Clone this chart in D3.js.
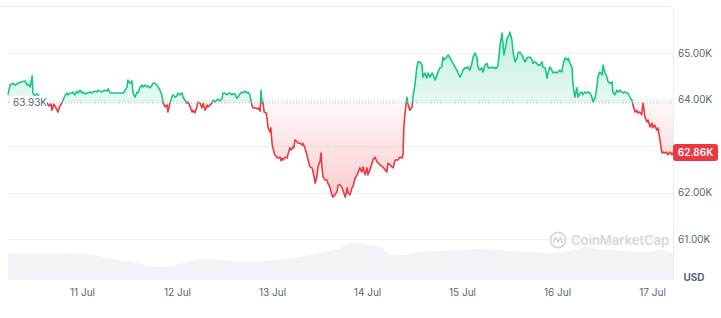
<!DOCTYPE html>
<html>
<head>
<meta charset="utf-8">
<script src="https://cdn.jsdelivr.net/npm/d3@7"></script>
<style>
  html, body { margin: 0; background: #fff; }
  svg { display: block; font-family: Inter, "Noto Sans", sans-serif; }
</style>
</head>
<body>
<svg id="chart" width="721" height="318"></svg>
<script>
// window start, 7 days of data (hours since start)
const start = Date.UTC(2024, 6, 10, 5, 18);
const openPrice = 63.93;
const lastPrice = 62.86;
const yTicks = [61, 62, 63, 64, 65];

// [hours since start, price in K USD]
const pricePoints = [
  [0,64.10],[0.5,64.31],[1.3,64.35],[1.8,64.31],[2.5,64.35],[3.5,64.38],[4.3,64.40],[4.8,64.31],
  [5.1,64.33],[5.6,64.27],[6.1,64.51],[6.3,64.14],[6.8,64.08],[7.3,64.12],[8.1,64.05],[9.1,63.99],
  [9.9,63.92],[10.4,63.86],[10.9,63.90],[11.1,63.77],[11.6,63.90],[12.1,63.82],[12.6,63.73],[13.1,63.86],
  [13.6,63.92],[13.9,63.99],[14.4,64.08],[14.9,64.14],[15.2,64.10],[15.7,64.14],[16.2,64.14],[16.4,64.16],
  [16.9,64.10],[17.4,64.18],[17.7,64.14],[18.2,64.20],[18.7,64.14],[18.9,64.16],[19.5,64.12],[20.0,64.14],
  [20.2,64.14],[20.7,64.16],[21.2,64.14],[21.5,64.16],[22.0,64.18],[22.5,64.16],[22.7,64.20],[23.2,64.18],
  [23.7,64.16],[24.0,64.18],[24.5,64.20],[25.0,64.18],[25.3,64.23],[25.8,64.14],[26.5,64.14],[27.5,64.14],
  [28.3,64.14],[29.1,64.14],[29.6,64.20],[30.1,64.27],[30.3,64.42],[30.8,64.35],[31.3,64.40],[31.6,64.14],
  [32.1,64.05],[32.6,64.16],[32.8,64.14],[33.3,64.25],[33.8,64.31],[34.1,64.27],[34.6,64.31],[35.1,64.27],
  [35.4,64.29],[35.9,64.25],[36.4,64.31],[36.6,64.35],[37.1,64.35],[37.6,64.31],[37.9,64.27],[38.4,64.20],
  [38.9,64.08],[39.2,63.92],[39.7,63.84],[40.2,63.88],[40.4,63.73],[40.7,63.84],[40.9,63.92],[41.4,64.05],
  [41.7,64.10],[42.2,64.05],[42.7,64.08],[42.9,64.14],[43.4,64.10],[44.0,64.14],[44.2,64.05],[44.7,63.99],
  [45.2,63.92],[45.5,63.95],[46.0,63.84],[46.5,63.73],[46.7,63.77],[47.2,63.71],[47.7,63.84],[48.0,63.95],
  [48.5,63.92],[49.0,63.82],[49.3,63.92],[49.8,63.77],[50.3,63.88],[50.5,63.84],[51.0,63.88],[51.5,63.92],
  [51.8,63.99],[52.3,63.95],[52.8,63.99],[53.0,64.01],[53.6,63.97],[54.1,64.03],[54.3,64.14],[54.8,64.14],
  [55.3,64.10],[55.6,64.12],[56.1,64.14],[56.6,64.10],[56.8,64.12],[57.3,64.12],[57.8,64.03],[58.1,64.05],
  [58.6,64.12],[59.1,64.16],[59.4,64.14],[59.9,64.18],[60.4,64.14],[60.6,64.16],[61.1,64.10],[61.6,63.88],
  [61.9,63.82],[62.4,63.82],[62.9,63.80],[63.2,63.82],[63.7,63.75],[63.9,64.20],[64.2,63.92],[64.4,63.95],
  [64.7,63.73],[65.2,63.71],[65.4,63.62],[65.7,63.39],[66.2,63.30],[66.4,63.39],[66.7,63.06],[66.9,62.96],
  [67.4,62.81],[67.9,62.76],[68.2,62.74],[68.7,62.76],[69.0,62.68],[69.2,62.74],[69.5,62.70],[70.0,62.76],
  [70.5,62.74],[70.7,62.81],[71.2,62.96],[71.5,62.91],[72.0,62.98],[72.2,62.96],[72.5,63.13],[73.0,63.09],
  [73.3,63.06],[73.8,63.06],[74.3,63.02],[74.5,63.06],[75.0,62.96],[75.5,62.81],[75.8,62.70],[76.3,62.55],
  [76.8,62.53],[77.0,62.48],[77.6,62.20],[78.1,62.38],[78.3,62.55],[78.8,62.66],[79.1,62.85],[79.3,62.55],
  [79.6,62.33],[80.1,62.27],[80.6,62.27],[80.8,62.20],[81.3,62.12],[81.8,61.95],[82.1,61.90],[82.6,61.95],
  [83.1,62.01],[83.4,62.16],[83.9,62.16],[84.4,62.10],[85.2,61.90],[85.7,62.10],[85.9,61.99],[86.4,61.95],
  [86.9,62.10],[87.1,62.12],[87.7,62.31],[88.2,62.38],[88.9,62.53],[89.4,62.44],[89.7,62.55],[90.2,62.38],
  [90.7,62.53],[90.9,62.38],[91.4,62.48],[92.2,62.70],[92.7,62.76],[93.2,62.66],[94.0,62.59],[94.7,62.55],
  [95.7,62.44],[96.0,62.63],[97.0,62.55],[97.3,62.53],[97.8,62.70],[98.5,62.70],[99.0,62.76],[99.5,62.74],
  [99.8,62.81],[100.0,63.41],[100.3,63.71],[100.8,64.05],[101.0,63.92],[101.5,63.77],[102.1,63.84],[102.3,64.05],
  [102.8,64.31],[103.3,64.70],[103.6,64.81],[104.1,64.81],[104.6,64.74],[104.8,64.48],[105.3,64.57],[105.8,64.46],
  [106.1,64.57],[106.6,64.48],[107.1,64.57],[107.4,64.53],[107.9,64.42],[108.4,64.53],[108.6,64.59],[109.1,64.68],
  [109.6,64.70],[109.9,64.91],[110.1,64.85],[110.6,64.89],[111.2,64.96],[111.7,64.89],[112.2,64.81],[112.4,64.78],
  [112.9,64.70],[113.4,64.63],[113.7,64.57],[114.2,64.48],[114.7,64.57],[114.9,64.63],[115.4,64.68],[115.9,64.68],
  [116.2,64.70],[116.7,64.63],[117.2,64.78],[117.5,64.91],[118.0,65.00],[118.5,64.89],[118.7,64.70],[119.2,64.63],
  [119.7,64.68],[120.0,64.59],[120.5,64.74],[121.0,64.78],[121.3,64.68],[121.8,64.68],[122.3,64.70],[122.5,64.68],
  [123.0,64.68],[123.5,64.68],[123.8,64.74],[124.3,65.17],[124.8,65.43],[125.0,65.24],[125.3,64.96],[125.8,65.17],
  [126.1,65.32],[126.6,65.39],[126.8,65.45],[127.3,65.28],[127.6,65.02],[128.1,64.81],[128.6,64.89],[128.8,65.00],
  [129.3,65.02],[129.8,64.96],[130.1,64.91],[130.6,64.81],[131.1,64.89],[131.4,64.91],[131.9,64.91],[132.4,64.85],
  [132.6,64.78],[133.1,64.81],[133.6,64.78],[133.9,64.74],[134.4,64.74],[134.9,64.81],[135.1,64.70],[135.7,64.68],
  [136.2,64.46],[136.4,64.57],[136.9,64.70],[137.4,64.63],[137.7,64.57],[138.2,64.59],[138.7,64.57],[138.9,64.59],
  [139.4,64.63],[139.9,64.59],[140.2,64.74],[140.7,64.89],[141.2,64.85],[141.5,64.89],[142.0,64.78],[142.5,64.68],
  [142.7,64.35],[143.2,64.05],[143.7,64.25],[144.0,64.05],[144.5,64.14],[145.0,64.16],[145.2,64.10],[145.7,64.16],
  [146.2,64.14],[146.5,64.16],[147.0,64.14],[147.5,64.05],[147.8,63.95],[148.3,64.03],[148.8,64.27],[149.0,64.48],
  [149.5,64.59],[150.1,64.53],[150.3,64.74],[150.8,64.57],[151.3,64.48],[151.6,64.38],[152.1,64.35],[152.6,64.38],
  [152.8,64.16],[153.3,64.10],[153.8,64.20],[154.1,64.16],[154.6,64.20],[155.1,64.16],[155.3,64.14],[155.8,64.16],
  [156.3,64.14],[156.6,64.14],[157.1,64.05],[157.6,63.99],[157.9,63.88],[158.4,63.73],[158.9,63.77],[159.1,63.71],
  [159.6,63.73],[160.1,63.67],[160.4,63.92],[160.7,63.77],[160.9,63.62],[161.4,63.52],[161.7,63.56],[162.2,63.41],
  [162.7,63.49],[162.9,63.39],[163.4,63.45],[163.9,63.34],[164.2,63.39],[164.7,63.13],[165.2,62.85],[165.4,62.87],
  [165.9,62.85],[166.4,62.87],[166.7,62.81],[167.2,62.87],[167.7,62.81],[168.0,62.86]
];

// [hours since start, volume in B USD]
const volumePoints = [
  [0,1.35],[9.6,1.30],[15.4,1.35],[21.2,1.25],[27.0,1.05],[32.8,0.85],[37.6,0.65],[40.9,0.70],
  [44.5,0.85],[49.8,1.05],[56.1,0.95],[61.9,0.90],[67.7,1.00],[73.8,1.15],[79.6,1.40],[84.1,1.60],
  [86.4,1.85],[91.2,1.75],[94.5,1.60],[96.2,1.30],[100.5,1.25],[102.8,1.40],[108.6,1.45],[114.4,1.50],
  [120.3,1.55],[126.1,1.45],[131.9,1.40],[137.7,1.35],[142.2,1.45],[145.7,1.65],[149.3,1.55],[155.1,1.45],
  [160.9,1.40],[165.7,1.50],[168.0,1.35]
];

const green = "#16c784";
const red = "#ea3943";
const textColor = "#58667e";
const gridColor = "#eff2f5";

const hr = 3600e3;
const toDate = h => new Date(start + h * hr);

const plotLeft = 8, plotRight = 673, plotBottom = 280, plotTop = 6;

const x = d3.scaleUtc()
    .domain([toDate(0), toDate(168)])
    .range([plotLeft, plotRight]);
const y = d3.scaleLinear()
    .domain([61, 65])
    .range([239, 53]);
const v = d3.scaleLinear()
    .domain([0, 2])
    .range([plotBottom, 240]);

const svg = d3.select("#chart");
const defs = svg.append("defs");
const baseY = y(openPrice);

// gradients for the two fills
const gGreen = defs.append("linearGradient")
    .attr("id", "gGreen").attr("gradientUnits", "userSpaceOnUse")
    .attr("x1", 0).attr("x2", 0).attr("y1", 30).attr("y2", baseY);
gGreen.append("stop").attr("offset", 0).attr("stop-color", green).attr("stop-opacity", 0.28);
gGreen.append("stop").attr("offset", 1).attr("stop-color", green).attr("stop-opacity", 0.1);

const gRed = defs.append("linearGradient")
    .attr("id", "gRed").attr("gradientUnits", "userSpaceOnUse")
    .attr("x1", 0).attr("x2", 0).attr("y1", baseY).attr("y2", 200);
gRed.append("stop").attr("offset", 0).attr("stop-color", red).attr("stop-opacity", 0.04);
gRed.append("stop").attr("offset", 1).attr("stop-color", red).attr("stop-opacity", 0.26);

defs.append("clipPath").attr("id", "above")
    .append("rect").attr("x", 0).attr("y", 0).attr("width", plotRight).attr("height", baseY);
defs.append("clipPath").attr("id", "below")
    .append("rect").attr("x", 0).attr("y", baseY).attr("width", plotRight).attr("height", plotBottom - baseY);

// plot frame (top + right edge)
svg.append("path")
    .attr("d", `M0,${plotTop + 0.5}H${plotRight - 4}Q${plotRight + 0.5},${plotTop + 0.5} ${plotRight + 0.5},${plotTop + 5}V${plotBottom}`)
    .attr("fill", "none")
    .attr("stroke", "#e9ecf0");

// grid
svg.append("g")
    .selectAll("line")
    .data(yTicks)
    .join("line")
    .attr("x1", plotLeft).attr("x2", plotRight)
    .attr("y1", d => Math.round(y(d)) + 0.5).attr("y2", d => Math.round(y(d)) + 0.5)
    .attr("stroke", gridColor);

// volume
svg.append("path")
    .datum(volumePoints)
    .attr("d", d3.area()
        .x(d => x(toDate(d[0])))
        .y0(plotBottom)
        .y1(d => v(d[1]))
        .curve(d3.curveMonotoneX))
    .attr("fill", "#f1f3f6");

// watermark
const wm = svg.append("g").attr("transform", "translate(558,240)");
wm.append("circle").attr("r", 7.5).attr("fill", "none").attr("stroke", "#d3d8df").attr("stroke-width", 1.8);
wm.append("path")
    .attr("d", "M-4.5,3 L-2.5,-3 L0,2 L2.5,-3 L4.5,3")
    .attr("fill", "none").attr("stroke", "#d3d8df").attr("stroke-width", 1.6).attr("stroke-linejoin", "round");
wm.append("text")
    .attr("x", 13).attr("y", 4.5)
    .attr("font-size", 13).attr("font-weight", 600)
    .attr("fill", "#d3d8df")
    .text("CoinMarketCap");

// price fills
const area = d3.area()
    .x(d => x(toDate(d[0])))
    .y0(baseY)
    .y1(d => y(d[1]));
svg.append("path").datum(pricePoints).attr("d", area)
    .attr("fill", "url(#gGreen)").attr("clip-path", "url(#above)");
svg.append("path").datum(pricePoints).attr("d", area)
    .attr("fill", "url(#gRed)").attr("clip-path", "url(#below)");

// open price dotted line
svg.append("line")
    .attr("x1", plotLeft).attr("x2", plotRight)
    .attr("y1", baseY).attr("y2", baseY)
    .attr("stroke", "#a7b1c2")
    .attr("stroke-dasharray", "1,2");

// price line, green above open, red below
const line = d3.line()
    .x(d => x(toDate(d[0])))
    .y(d => y(d[1]));
svg.append("path").datum(pricePoints).attr("d", line)
    .attr("fill", "none").attr("stroke", green).attr("stroke-width", 1.6)
    .attr("stroke-linejoin", "round").attr("clip-path", "url(#above)");
svg.append("path").datum(pricePoints).attr("d", line)
    .attr("fill", "none").attr("stroke", red).attr("stroke-width", 1.6)
    .attr("stroke-linejoin", "round").attr("clip-path", "url(#below)");

// open price label
svg.append("rect")
    .attr("x", 10).attr("y", baseY - 7).attr("width", 37).attr("height", 14)
    .attr("fill", "#fff");
svg.append("text")
    .attr("x", 13).attr("y", baseY)
    .attr("dy", "0.35em")
    .attr("font-size", 10)
    .attr("fill", textColor)
    .text(openPrice.toFixed(2) + "K");

// y axis
const yAxis = svg.append("g")
    .attr("transform", `translate(${plotRight},0)`)
    .call(d3.axisRight(y)
        .tickValues(yTicks.filter(t => Math.abs(y(t) - y(lastPrice)) > 12))
        .tickSize(0)
        .tickPadding(5)
        .tickFormat(d => d.toFixed(2) + "K"));
yAxis.select(".domain").remove();
yAxis.selectAll("text")
    .attr("font-family", "Inter, sans-serif")
    .attr("font-size", 10)
    .attr("fill", textColor);

svg.append("text")
    .attr("x", 694).attr("y", plotBottom - 3)
    .attr("text-anchor", "middle")
    .attr("dy", "0.35em")
    .attr("font-size", 10)
    .attr("font-weight", 700)
    .attr("fill", textColor)
    .text("USD");

// x axis
const xAxis = svg.append("g")
    .attr("transform", `translate(0,${plotBottom})`)
    .call(d3.axisBottom(x)
        .ticks(d3.utcDay.every(1))
        .tickSize(0)
        .tickPadding(9)
        .tickFormat(d3.utcFormat("%-d %b")));
xAxis.select(".domain").remove();
xAxis.selectAll("text")
    .attr("font-family", "Inter, sans-serif")
    .attr("font-size", 10)
    .attr("fill", textColor);

// last price tag
const tagY = y(lastPrice);
svg.append("rect")
    .attr("x", plotRight).attr("y", tagY - 8.5)
    .attr("width", 45).attr("height", 17)
    .attr("rx", 3)
    .attr("fill", red);
svg.append("text")
    .attr("x", plotRight + 22.5).attr("y", tagY)
    .attr("dy", "0.35em")
    .attr("text-anchor", "middle")
    .attr("font-size", 10)
    .attr("font-weight", 600)
    .attr("fill", "#fff")
    .text(lastPrice.toFixed(2) + "K");
</script>
</body>
</html>
